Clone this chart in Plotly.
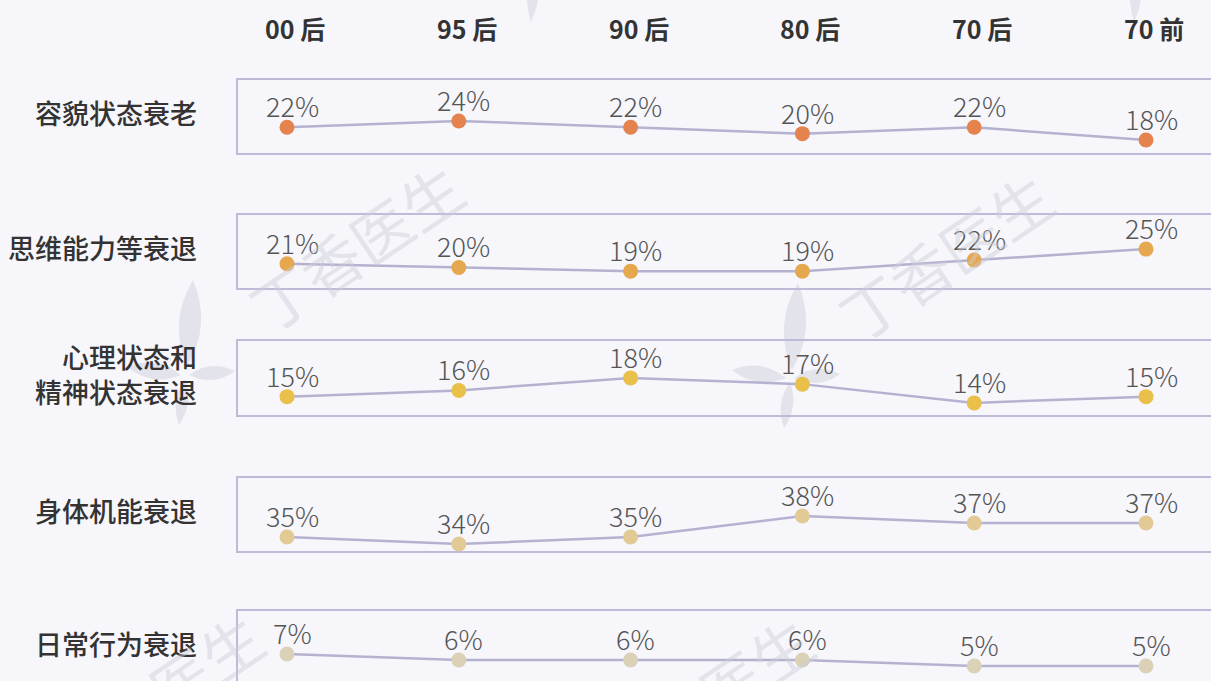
import math
import plotly.graph_objects as go

categories = ["00 后", "95 后", "90 后", "80 后", "70 后", "70 前"]
rows = ["容貌状态衰老", "思维能力等衰退", "心理状态和<br>精神状态衰退", "身体机能衰退", "日常行为衰退"]
appearance = [22, 24, 22, 20, 22, 18]
thinking = [21, 20, 19, 19, 22, 25]
mental = [15, 16, 18, 17, 14, 15]
physical = [35, 34, 35, 38, 37, 37]
behavior = [7, 6, 6, 6, 5, 5]
series = [appearance, thinking, mental, physical, behavior]
colors = ["#e5834f", "#e6a84f", "#e9c04a", "#e1ca94", "#dad1b7"]

# layout helpers (pixel geometry)
W, H = 1211, 681
T, B, L, R = 80, 0, 238, 0
box_px = [(80, 153), (215, 288), (341, 415), (478, 551), (611, 684)]
y_ranges = [(13.9, 36.9), (14.4, 34.3), (12.06, 23.9), (33.0, 43.43), (2.5, 14.17)]
ph = H - T - B
pw = W - L - R

def px2x(px):
    return (px - L) / pw

def px2y(py):
    return (H - B - py) / ph

def dom(top, bot):
    bot = min(bot, H - B)
    return [max(0, px2y(bot)), min(1, px2y(top))]

BG = "#f6f6fb"
BOX = "#bdbbd7"
LINE = "#b4b2d0"
WM = "rgba(205,203,216,0.45)"

fig = go.Figure()
xs = list(range(len(categories)))
annotations = []
for i, (vals, col) in enumerate(zip(series, colors)):
    n = "" if i == 0 else str(i + 1)
    fig.add_trace(go.Scatter(
        x=xs, y=vals, xaxis="x" + n, yaxis="y" + n,
        mode="lines+markers",
        line=dict(color=LINE, width=2.5),
        marker=dict(color=col, size=15),
        cliponaxis=False,
        showlegend=False, hoverinfo="skip",
    ))
    for x, v in zip(xs, vals):
        annotations.append(dict(
            x=x, y=v, xref="x" + n, yref="y" + n, text=f"{v}%",
            showarrow=False, xanchor="center", yanchor="bottom",
            xshift=5, yshift=0,
            font=dict(family="Noto Sans CJK SC", size=27, color="#555555", weight=300),
        ))

layout = dict(
    width=W, height=H,
    margin=dict(l=L, r=R, t=T, b=B, pad=0),
    paper_bgcolor=BG, plot_bgcolor="rgba(0,0,0,0)",
    font=dict(family="Noto Sans CJK SC", color="#333333"),
    showlegend=False,
)
xr = [(238 - 287) / 171.8, (1211 - 287) / 171.8]
for i in range(5):
    n = "" if i == 0 else str(i + 1)
    d = dom(*box_px[i])
    last = i == 4
    layout["xaxis" + n] = dict(
        domain=[0, 1], range=xr, anchor="y" + n,
        showgrid=False, zeroline=False, showticklabels=False, ticks="",
        showline=True, linecolor=BOX, linewidth=2,
        mirror=(not last), side=("top" if last else "bottom"),
        fixedrange=True,
    )
    layout["yaxis" + n] = dict(
        domain=d, range=list(y_ranges[i]), anchor="x" + n,
        showgrid=False, zeroline=False, showticklabels=False, ticks="",
        showline=True, linecolor=BOX, linewidth=2, mirror=False,
        fixedrange=True,
    )
fig.update_layout(**layout)

# column headers
for j, c in enumerate(categories):
    annotations.append(dict(
        x=j, y=px2y(28), xref="x", yref="paper", text=f"<b>{c}</b>",
        showarrow=False, xshift=8, yanchor="middle", xanchor="center",
        font=dict(family="Noto Sans CJK SC", size=25, color="#333333"),
    ))
# row labels
for i, r in enumerate(rows):
    top, bot = box_px[i]
    cy = (top + bot) / 2 - 4
    annotations.append(dict(
        x=px2x(199), y=px2y(cy), xref="paper", yref="paper", text=r,
        showarrow=False, xanchor="right", yanchor="middle", align="right",
        font=dict(family="Noto Sans CJK SC", size=27, color="#333333", weight=500),
    ))

# faint watermarks (text)
wm = [(355, 245), (945, 255), (155, 695), (705, 698)]
for (px, py) in wm:
    annotations.append(dict(
        x=px2x(px), y=px2y(py), xref="paper", yref="paper",
        xanchor="center", yanchor="middle",
        text="丁香医生", showarrow=False, textangle=-34,
        font=dict(family="Noto Sans CJK SC", size=60, color=WM),
    ))
fig.update_layout(annotations=annotations)

# faint leaf logos (petals: base point, tip point, half width)
def petal(bx, by, tx, ty, w):
    mx, my = (bx + tx) / 2, (by + ty) / 2
    dx, dy = tx - bx, ty - by
    ln = math.hypot(dx, dy)
    nx, ny = -dy / ln * w, dx / ln * w
    c1 = (px2x(mx + nx), px2y(my + ny))
    c2 = (px2x(mx - nx), px2y(my - ny))
    b = (px2x(bx), px2y(by))
    t = (px2x(tx), px2y(ty))
    return (f"M {b[0]},{b[1]} Q {c1[0]},{c1[1]} {t[0]},{t[1]} "
            f"Q {c2[0]},{c2[1]} {b[0]},{b[1]} Z")

logos = [(185, 375), (790, 378)]
shapes = []
for (cx, cy) in logos:
    parts = [
        (cx + 2, cy - 8, cx + 8, cy - 95, 22),   # top petal
        (cx - 4, cy, cx - 58, cy - 8, 16),       # left petal
        (cx + 4, cy, cx + 50, cy - 4, 14),       # right petal
        (cx, cy + 4, cx - 6, cy + 50, 12),       # bottom petal
    ]
    for p in parts:
        shapes.append(dict(type="path", path=petal(*p), xref="paper", yref="paper",
                           fillcolor=WM, line=dict(width=0), layer="below"))
# petals peeking from the top edge
for (cx,) in [(535,), (1138,)]:
    shapes.append(dict(type="path", path=petal(cx, -40, cx - 4, 22, 12),
                       xref="paper", yref="paper", fillcolor=WM,
                       line=dict(width=0), layer="below"))
fig.update_layout(shapes=shapes)

fig.write_html("out.html", config={"displayModeBar": False},
               post_script="document.body.style.margin='0';")
